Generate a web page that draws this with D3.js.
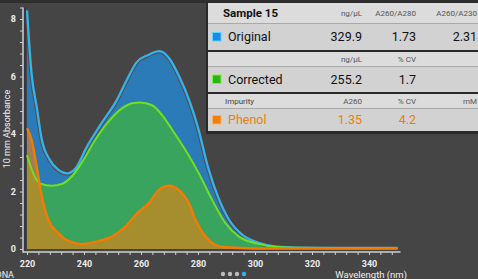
<!DOCTYPE html>
<html>
<head>
<meta charset="utf-8">
<script src="https://cdn.jsdelivr.net/npm/d3@7"></script>
<style>
body { margin: 0; background: #454545; }
svg { display: block; font-family: Roboto, sans-serif; }
</style>
</head>
<body>
<svg width="478" height="279"></svg>
<script>
// spectra (wavelength nm, absorbance)
var originalNm  = [220, 221.6, 223.4, 225.2, 228, 231, 234, 237, 241, 246, 251.5, 255, 258.5, 262.5, 266.5, 270, 273.5, 277, 280, 283.5, 287, 291, 295.5, 301, 307, 315, 330, 350];
var originalAbs = [8.3, 6.1, 4.95, 3.8, 3.1, 2.75, 2.63, 2.8, 3.55, 4.35, 5.18, 5.88, 6.5, 6.75, 6.88, 6.62, 5.98, 5.15, 4.22, 2.85, 1.82, 1.0, 0.5, 0.22, 0.09, 0.05, 0.04, 0.04];

var correctedNm  = [220, 222.2, 224.6, 228.7, 232.2, 235.7, 239.8, 243.9, 248.6, 253.3, 256.9, 259.8, 263.9, 267.4, 271, 275.6, 280.3, 285, 289.7, 294.4, 301.4, 307.3, 315, 330, 350];
var correctedAbs = [3.27, 2.63, 2.28, 2.2, 2.26, 2.52, 3.1, 3.79, 4.43, 4.89, 5.07, 5.1, 5.0, 4.66, 4.14, 3.44, 2.63, 1.7, 0.89, 0.43, 0.17, 0.07, 0.04, 0.03, 0.03];

var phenolNm  = [220, 221.6, 223.4, 225.2, 227.5, 231, 234.5, 239.3, 243.9, 249.8, 254.5, 258.6, 262.7, 266.2, 269.8, 273.3, 276.8, 279.2, 282.7, 286.2, 289.7, 300, 350];
var phenolAbs = [4.2, 3.8, 2.86, 1.82, 1.01, 0.55, 0.28, 0.17, 0.25, 0.43, 0.78, 1.24, 1.59, 2.05, 2.2, 2.05, 1.59, 1.01, 0.43, 0.14, 0.06, 0.02, 0.02];

var xTicks = d3.range(220, 352, 4);
var yTicks = d3.range(0, 22).map(function(i) { return i * 0.4; });

// table contents
var headerRows = [
  ["Sample 15", "ng/μL", "A260/A280", "A260/A230"],
  ["", "ng/μL", "% CV", ""],
  ["Impurity", "A260", "% CV", "mM"]
];
var sampleNames = ["Original", "Corrected", "Phenol"];
var sampleValues = [
  ["329.9", "1.73", "2.31"],
  ["255.2", "1.7", ""],
  ["1.35", "4.2", ""]
];

var svg = d3.select("svg");

var x = d3.scaleLinear().domain([220, 350]).range([27, 397.5]);
var y = d3.scaleLinear().domain([0, 8.4]).range([249, 7.5]);

svg.append("rect").attr("width", 478).attr("height", 3).attr("fill", "#2e2e2e");

// areas
var area = d3.area()
  .x(function(d) { return x(d[0]); })
  .y0(y(0))
  .y1(function(d) { return y(d[1]); })
  .curve(d3.curveMonotoneX);
var line = d3.line()
  .x(function(d) { return x(d[0]); })
  .y(function(d) { return y(d[1]); })
  .curve(d3.curveMonotoneX);

var original = d3.zip(originalNm, originalAbs),
  corrected = d3.zip(correctedNm, correctedAbs),
  phenol = d3.zip(phenolNm, phenolAbs);

svg.append("path").datum(original).attr("fill", "#2b7bb8").attr("d", area);
svg.append("path").datum(corrected).attr("fill", "#38a45e").attr("d", area);
svg.append("path").datum(phenol).attr("fill", "#f08010").attr("fill-opacity", 0.6).attr("d", area);

svg.append("path").datum(original)
  .attr("fill", "none").attr("stroke", "#6a3a22").attr("stroke-opacity", 0.7)
  .attr("stroke-width", 4.5).attr("d", line);
svg.append("path").datum(original)
  .attr("fill", "none").attr("stroke", "#2ab6f6").attr("stroke-width", 2.3)
  .attr("stroke-linejoin", "round").attr("d", line);
svg.append("path").datum(corrected)
  .attr("fill", "none").attr("stroke", "#72e01c").attr("stroke-width", 2)
  .attr("stroke-linejoin", "round").attr("d", line);
svg.append("path").datum(phenol)
  .attr("fill", "none").attr("stroke", "#f57a00").attr("stroke-width", 2.4)
  .attr("stroke-linejoin", "round").attr("d", line);

// axes
var xAxis = svg.append("g")
  .attr("transform", "translate(0,252)")
  .call(d3.axisBottom(x).tickValues(xTicks).tickSize(3).tickSizeOuter(0).tickPadding(6)
    .tickFormat(function(d) { return d % 20 === 0 ? d : ""; }));
xAxis.select(".domain").remove();
xAxis.append("line")
  .attr("x1", x.range()[0] - 4).attr("x2", x.range()[1] + 3)
  .attr("stroke", "#cfcfcf").attr("stroke-width", 1.5);

var yAxis = svg.append("g")
  .attr("transform", "translate(23,0)")
  .call(d3.axisLeft(y).tickValues(yTicks).tickSize(3).tickSizeOuter(0).tickPadding(4)
    .tickFormat(function(d) { var r = Math.round(d); return (Math.abs(d - r) < 1e-6 && r % 2 === 0) ? r : ""; }));
yAxis.select(".domain").remove();
yAxis.append("line")
  .attr("y1", y.range()[1]).attr("y2", 252.7)
  .attr("stroke", "#cfcfcf").attr("stroke-width", 1.5);
svg.append("line")
  .attr("x1", 25).attr("x2", 25).attr("y1", y.range()[1]).attr("y2", 251)
  .attr("stroke", "#2c3344").attr("stroke-width", 1.5);

svg.selectAll(".tick line").attr("stroke", "#cfcfcf");
svg.selectAll(".tick text")
  .attr("fill", "#eeeeee").style("font-size", "9px").style("font-weight", "bold")
  .style("font-family", "Roboto, sans-serif");

svg.append("text")
  .attr("transform", "translate(9.5,129) rotate(-90)")
  .attr("text-anchor", "middle").attr("fill", "#f0f0f0")
  .style("font-size", "9px")
  .text("10 mm Absorbance");

svg.append("text")
  .attr("x", 14).attr("y", 278).attr("text-anchor", "end")
  .attr("fill", "#f0f0f0").style("font-size", "9px")
  .text("DNA");

svg.append("text")
  .attr("x", 407).attr("y", 278).attr("text-anchor", "end")
  .attr("fill", "#f0f0f0").style("font-size", "9.5px")
  .text("Wavelength (nm)");

svg.selectAll(".pagedot")
  .data([0, 1, 2, 3])
  .enter().append("circle")
  .attr("cx", function(d) { return 223 + d * 7; })
  .attr("cy", 274)
  .attr("r", 2.2)
  .attr("fill", function(d) { return d === 3 ? "#29b6f6" : "#bdbdbd"; });

// table panel
var panel = svg.append("g");
var rowLayout = [
  { y: 3, h: 20, header: 0 },
  { y: 24, h: 26, sample: 0 },
  { y: 52, h: 14, header: 1 },
  { y: 67, h: 25, sample: 1 },
  { y: 94, h: 14, header: 2 },
  { y: 109, h: 22, sample: 2 }
];
var colRight = [362, 416, 477];
var sampleColor = ["#111111", "#111111", "#e8800e"];
var iconFill = ["#1e88e5", "#2bb514", "#f07f10"];
var iconStroke = ["#5fd0ff", "#7cf04a", "#ffb060"];

panel.append("rect")
  .attr("x", 206).attr("y", 2).attr("width", 274).attr("height", 132)
  .attr("fill", "#2a2a2a");

rowLayout.forEach(function(r) {
  var isHeader = r.header !== undefined;
  panel.append("rect")
    .attr("x", 208).attr("y", r.y).attr("width", 272).attr("height", r.h)
    .attr("fill", isHeader ? "#dcdcdc" : "#d2d2d2");
  if (isHeader) {
    panel.append("rect")
      .attr("x", 208).attr("y", r.y + r.h).attr("width", 272).attr("height", 1)
      .attr("fill", "#a9a9a9");
    var h = headerRows[r.header];
    var base = r.y + r.h / 2 + 3;
    if (h[0] === "Sample 15") {
      panel.append("text").attr("x", 223).attr("y", r.y + 14)
        .attr("fill", "#111").style("font-size", "11.5px").style("font-weight", "bold")
        .text(h[0]);
    } else if (h[0]) {
      panel.append("text").attr("x", 225).attr("y", base)
        .attr("fill", "#444").style("font-size", "8px")
        .text(h[0]);
    }
    h.slice(1).forEach(function(t, i) {
      if (!t) return;
      panel.append("text").attr("x", colRight[i]).attr("y", base)
        .attr("text-anchor", "end").attr("fill", "#555").style("font-size", "8px")
        .text(t);
    });
  } else {
    var s = r.sample, cy = r.y + r.h / 2;
    panel.append("rect")
      .attr("x", 212.5).attr("y", cy - 4.5).attr("width", 8.5).attr("height", 8.5)
      .attr("fill", iconFill[s]).attr("stroke", iconStroke[s]).attr("stroke-width", 1);
    panel.append("text").attr("x", 228).attr("y", cy + 4.3)
      .attr("fill", sampleColor[s]).style("font-size", "12.5px")
      .text(sampleNames[s]);
    sampleValues[s].forEach(function(t, i) {
      if (!t) return;
      panel.append("text").attr("x", colRight[i]).attr("y", cy + 4.3)
        .attr("text-anchor", "end").attr("fill", sampleColor[s]).style("font-size", "12.5px")
        .text(t);
    });
  }
});
</script>
</body>
</html>
